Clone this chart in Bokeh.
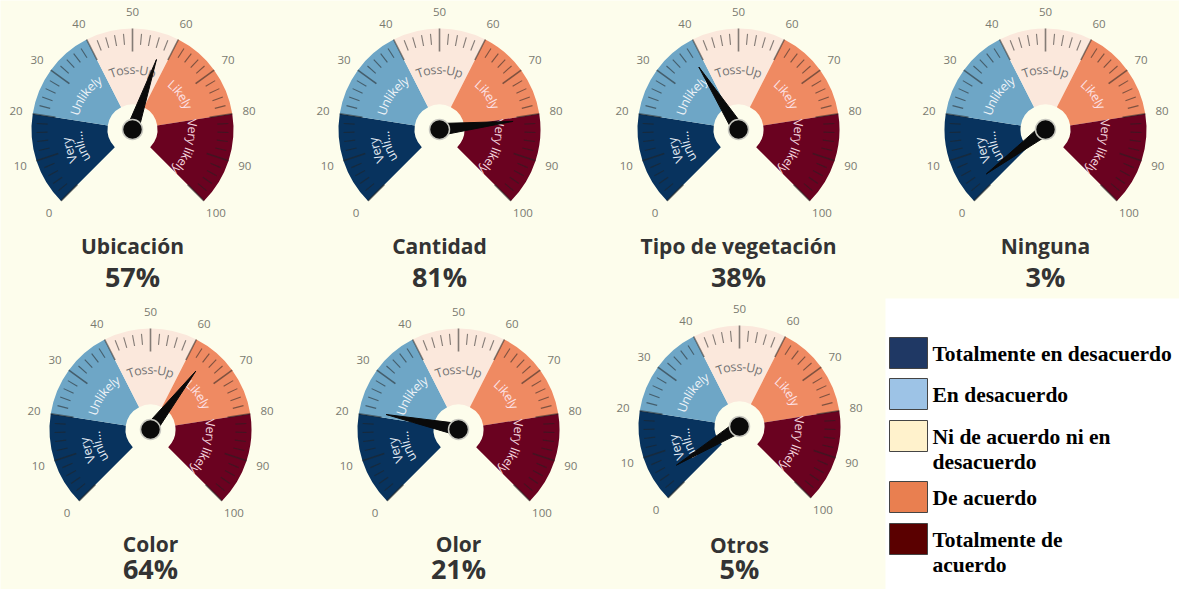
import math
from bokeh.plotting import figure
from bokeh.models import Range1d
from bokeh.core.properties import value
from bokeh.embed import file_html
from bokeh.resources import INLINE

# ---------------- data ----------------
categories = ["Ubicación", "Cantidad", "Tipo de vegetación", "Ninguna", "Color", "Olor", "Otros"]
values = [57, 81, 38, 3, 64, 21, 5]
band_edges = [0, 20, 40, 60, 80, 100]
band_names = ["Very\nunli…", "Unlikely", "Toss-Up", "Likely", "Very likely"]
tick_labels = [0, 10, 20, 30, 40, 50, 60, 70, 80, 90, 100]
legend_labels = ["Totalmente en desacuerdo", "En desacuerdo",
                 "Ni de acuerdo ni en\ndesacuerdo", "De acuerdo", "Totalmente de\nacuerdo"]

# ---------------- styles / layout ----------------
band_colors = ["#08335e", "#6ea6c6", "#fbe8dc", "#ef8a62", "#6a0220"]
band_text_colors = ["#e6edf5", "#eef4f8", "#747474", "#fde2e8", "#f4d4de"]
legend_colors = ["#1f3864", "#9dc3e6", "#fff2cc", "#e97f50", "#5a0000"]
legend_tops = [345, 386, 428, 489, 531]
BG = "#fdfdec"
W, H = 1195, 605
centers = [(140, 137), (447, 137), (746, 137), (1053, 137), (158, 437), (466, 437), (747, 434)]
title_y = [253, 253, 253, 253, 551, 551, 552]
pct_y = [284, 284, 284, 284, 576, 576, 576]
R_OUT, R_IN = 101, 25
SANS = value("Open Sans")
# approximate Open Sans advance widths (em) used to lay characters along the arc
CW = {"T": .55, "o": .60, "s": .49, "-": .32, "U": .72, "p": .61, "n": .61, "l": .25, "i": .25,
      "k": .53, "e": .56, "y": .50, "L": .52, "V": .59, "r": .41, "u": .61, " ": .26, "…": .80}


def Y(y):
    return H - y


def ang(v):
    return math.radians(225 - 2.7 * v)


p = figure(width=1179, height=589, x_range=Range1d(8, 1187), y_range=Range1d(8, 597),
           output_backend="svg", toolbar_location=None, x_axis_type=None, y_axis_type=None,
           background_fill_color=BG, border_fill_color=BG, min_border=0)
p.outline_line_color = None
p.grid.visible = False


def arc_text(cx, cy, r, a_mid, s, size, color):
    widths = [CW.get(ch, .58) * size for ch in s]
    total = sum(widths)
    pos = -total / 2
    xs, ys, angs = [], [], []
    for w in widths:
        c = pos + w / 2
        a = a_mid - c / r
        xs.append(cx + r * math.cos(a)); ys.append(cy + r * math.sin(a)); angs.append(a - math.pi / 2)
        pos += w
    p.text(x=xs, y=ys, text=list(s), angle=angs, text_font=SANS, text_font_size=f"{size}px",
           text_color=color, text_align="center", text_baseline="middle")


for (cxr, cyr), cat, val, ty_, py_ in zip(centers, categories, values, title_y, pct_y):
    cx, cy = cxr, Y(cyr)
    # bands
    p.annular_wedge(x=[cx] * 5, y=[cy] * 5, inner_radius=R_IN, outer_radius=R_OUT,
                    start_angle=[ang(b) for b in band_edges[1:]],
                    end_angle=[ang(a) for a in band_edges[:-1]],
                    fill_color=band_colors, line_color=None)
    # ticks
    xs0, ys0, xs1, ys1, lw = [], [], [], [], []
    for v in range(0, 101, 2):
        a = ang(v)
        major = v % 10 == 0
        r0, r1 = (78, 101) if major else (85, 96)
        xs0.append(cx + r0 * math.cos(a)); ys0.append(cy + r0 * math.sin(a))
        xs1.append(cx + r1 * math.cos(a)); ys1.append(cy + r1 * math.sin(a))
        lw.append(1.6 if major else 1.1)
    p.segment(x0=xs0, y0=ys0, x1=xs1, y1=ys1, line_color="#222222", line_alpha=0.55, line_width=lw)
    # tick labels
    p.text(x=[cx + 118 * math.cos(ang(t)) for t in tick_labels],
           y=[cy + 118 * math.sin(ang(t)) for t in tick_labels],
           text=[str(t) for t in tick_labels], text_font=SANS, text_font_size="11.5px",
           text_color="#7a7a70", text_align="center", text_baseline="middle")
    # band labels (curved along the arc)
    for i, name in enumerate(band_names):
        a_mid = ang((band_edges[i] + band_edges[i + 1]) / 2)
        lines = name.split("\n")
        radii = [60] if len(lines) == 1 else [67, 55]
        for line, r in zip(lines, radii):
            arc_text(cx, cy, r, a_mid, line, 12.5, band_text_colors[i])
    # needle
    a = ang(val)
    L, hw = 74, 6
    tx, ty = cx + L * math.cos(a), cy + L * math.sin(a)
    nx, ny = -math.sin(a) * hw, math.cos(a) * hw
    p.patch(x=[cx + nx, tx, cx - nx], y=[cy + ny, ty, cy - ny], fill_color="#0a0a0a", line_color="#0a0a0a")
    p.circle(x=[cx], y=[cy], radius=10, fill_color="#0a0a0a", line_color="#c8c8c0", line_width=1.5)
    # title and value
    p.text(x=[cx], y=[Y(ty_)], text=[cat], text_font=SANS, text_font_style="bold",
           text_font_size="21px", text_color="#333333", text_align="center", text_baseline="middle")
    p.text(x=[cx], y=[Y(py_)], text=[f"{val}%"], text_font=SANS, text_font_style="bold",
           text_font_size="27px", text_color="#333333", text_align="center", text_baseline="middle")

# legend box
p.quad(left=[893], right=[1187], top=[Y(306)], bottom=[8], fill_color="white", line_color=None)
for top, lab, col in zip(legend_tops, legend_labels, legend_colors):
    p.quad(left=[897], right=[935], top=[Y(top)], bottom=[Y(top + 31)], fill_color=col,
           line_color="#444444", line_width=1)
    for k, line in enumerate(lab.split("\n")):
        p.text(x=[940], y=[Y(top + 16 + 25 * k)], text=[line], text_font=value("Liberation Serif"),
               text_font_style="bold", text_font_size="21.5px", text_color="black",
               text_align="left", text_baseline="middle")

open("out.html", "w").write(file_html(p, INLINE))
